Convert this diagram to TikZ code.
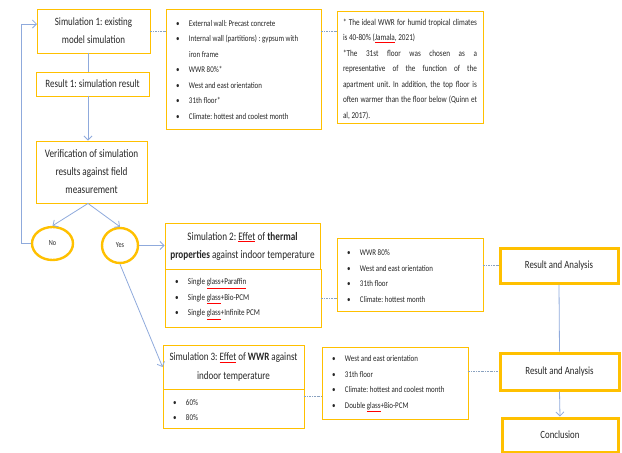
\documentclass[tikz,border=0pt]{standalone}
\usepackage{fontspec}
\setmainfont{Carlito}[FakeStretch=0.8]
\usetikzlibrary{arrows.meta,shapes.geometric}
\definecolor{ybord}{HTML}{FFC000}
\definecolor{lblue}{HTML}{8FAADC}
\definecolor{dline}{HTML}{8AA2C0}
\definecolor{txt}{HTML}{262626}
\newcommand\sq[1]{\textcolor{red}{\underline{\textcolor{txt}{#1}}}}
\newcommand\bul[1]{\par\noindent\hangindent=13pt\hangafter=1\makebox[13pt][l]{\textbullet}#1}
% list block: #1 raise, #2 width, #3 content
\newcommand\lst[3]{\raisebox{#1}[\height][\depth]{\parbox{#2}{\raggedright #3}}}
\newcommand\jst[3]{\raisebox{#1}[\height][\depth]{\parbox{#2}{#3}}}
\frenchspacing
\begin{document}
\begin{tikzpicture}[x=1pt,y=-1pt,
  every node/.style={text=txt},
  box/.style={draw=ybord,line width=0.9pt,rectangle,inner sep=0pt,align=center},
  thick box/.style={draw=ybord,line width=3pt,rectangle,inner sep=0pt,align=center},
  oval/.style={draw=ybord,line width=2.4pt,ellipse,inner sep=0pt},
  big/.style={font=\fontsize{11.2}{18}\selectfont},
  small/.style={font=\fontsize{8.7}{15.5}\selectfont},
  conn/.style={draw=lblue,line width=0.8pt},
  arr/.style={conn,-{Straight Barb[length=4pt,width=8pt]}},
  dsh/.style={draw=dline,line width=0.6pt,dash pattern=on 2pt off 1pt on 0.6pt off 1pt}]
\useasboundingbox (0,0) rectangle (622,453);
% boxes
\node[box,big,minimum width=113pt,minimum height=44pt] (sim1) at (93.5,31) {Simulation 1: existing\\model simulation};
\node[box,big,minimum width=113pt,minimum height=24pt] (res1) at (92.5,84) {Result 1: simulation result};
\node[box,font=\fontsize{11.5}{18}\selectfont,minimum width=111pt,minimum height=62pt] (ver) at (91.5,172) {Verification of simulation\\results against field\\measurement};
\node[box,small,minimum width=155pt,minimum height=120pt,inner xsep=10pt] (list1) at (243.5,69) {\lst{-1pt}{135pt}{%
\bul{External wall: Precast concrete}
\bul{Internal wall (partitions) : gypsum with\newline iron frame}
\bul{WWR 80\%*}
\bul{West and east orientation}
\bul{31th floor*}
\bul{Climate: hottest and coolest month}}};
\node[box,font=\fontsize{9}{15.5}\selectfont,minimum width=146pt,minimum height=112pt,inner xsep=6pt] (note) at (410,67) {\jst{-2pt}{134pt}{%
* The ideal WWR for humid tropical climates\linebreak is 40-80\% (\sq{Jamala}, 2021)\par
*The 31st floor was chosen as a\linebreak representative of the function of the\linebreak apartment unit. In addition, the top floor is\linebreak often warmer than the floor below (Quinn et\linebreak al, 2017).}};
\node[oval,minimum width=41pt,minimum height=33pt,font=\fontsize{7.8}{9}\selectfont] (no) at (52.5,243.5) {No};
\node[oval,minimum width=36pt,minimum height=35pt,font=\fontsize{7.8}{9}\selectfont] (yes) at (120,245.5) {Yes};
\node[box,font=\fontsize{11.5}{18}\selectfont,minimum width=155pt,minimum height=46pt] (sim2) at (242.5,246) {Simulation 2: \sq{Effet} of \textbf{thermal}\\\textbf{properties} against indoor temperature};
\node[box,font=\fontsize{8.9}{15.5}\selectfont,minimum width=156pt,minimum height=58pt,inner xsep=10pt] (sim2l) at (243,298) {\lst{-1pt}{136pt}{%
\bul{Single \sq{glass+Paraffin}}
\bul{Single \sq{glass}+Bio-PCM}
\bul{Single \sq{glass}+Infinite PCM}}};
\node[box,small,minimum width=146pt,minimum height=73pt,inner xsep=10pt] (list2) at (410,274.5) {\lst{-1.5pt}{126pt}{%
\bul{WWR 80\%}
\bul{West and east orientation}
\bul{31th floor}
\bul{Climate: hottest month}}};
\node[thick box,font=\fontsize{11}{12}\selectfont,minimum width=118pt,minimum height=35pt] (ra1) at (559,265.5) {Result and Analysis};
\node[box,font=\fontsize{11.3}{19}\selectfont,minimum width=141pt,minimum height=44pt] (sim3) at (233.5,367) {Simulation 3: \sq{Effet} of \textbf{WWR} against\\indoor temperature};
\node[box,font=\fontsize{8.7}{15}\selectfont,minimum width=141pt,minimum height=39pt,inner xsep=10pt] (sim3l) at (233.5,408.5) {\lst{-2pt}{121pt}{%
\bul{60\%}
\bul{80\%}}};
\node[box,small,minimum width=146pt,minimum height=72pt,inner xsep=10pt] (list3) at (395,383) {\lst{-0.5pt}{126pt}{%
\bul{West and east orientation}
\bul{31th floor}
\bul{Climate: hottest and coolest month}
\bul{Double \sq{glass}+Bio-PCM}}};
\node[thick box,font=\fontsize{11}{12}\selectfont,minimum width=119pt,minimum height=37pt] (ra2) at (559.5,371.5) {Result and Analysis};
\node[thick box,font=\fontsize{11}{12}\selectfont,minimum width=116pt,minimum height=34pt] (concl) at (560,435) {Conclusion};
% helper coordinates
\coordinate (ax) at (88,0);
\coordinate (lx) at (21,0);
\coordinate (s1in) at (37,24);
\coordinate (d1) at (0,31);
\coordinate (d2) at (0,396);
% connectors
\draw[conn] (sim1.south -| ax) -- (res1.north -| ax);
\draw[arr] (res1.south -| ax) -- (ver.north -| ax);
\draw[arr] (ver.south -| ax) -- (no.north);
\draw[arr] (ver.south -| ax) -- (yes.north);
\draw[arr] (no.west) -- (no.west -| lx) -- (s1in -| lx) -- (s1in);
\draw[arr] (yes.east) -- (sim2.west |- yes.east);
\draw[arr] (yes.south) -- (sim3.west);
\draw[conn] (ra1.south) -- (ra2.north);
\draw[arr] (ra2.south) -- (concl.north);
% dashed links
\draw[dsh] (sim1.east) -- (list1.west |- d1);
\draw[dsh] (list1.east |- d1) -- (note.west |- d1);
\draw[dsh] (sim2l.east) -- (list2.west |- sim2l.east);
\draw[dsh] (list2.east |- ra1.west) -- (ra1.west);
\draw[dsh] (sim3l.east |- d2) -- (list3.west |- d2);
\draw[dsh] (list3.east |- ra2.west) -- (ra2.west);
\end{tikzpicture}
\end{document}
